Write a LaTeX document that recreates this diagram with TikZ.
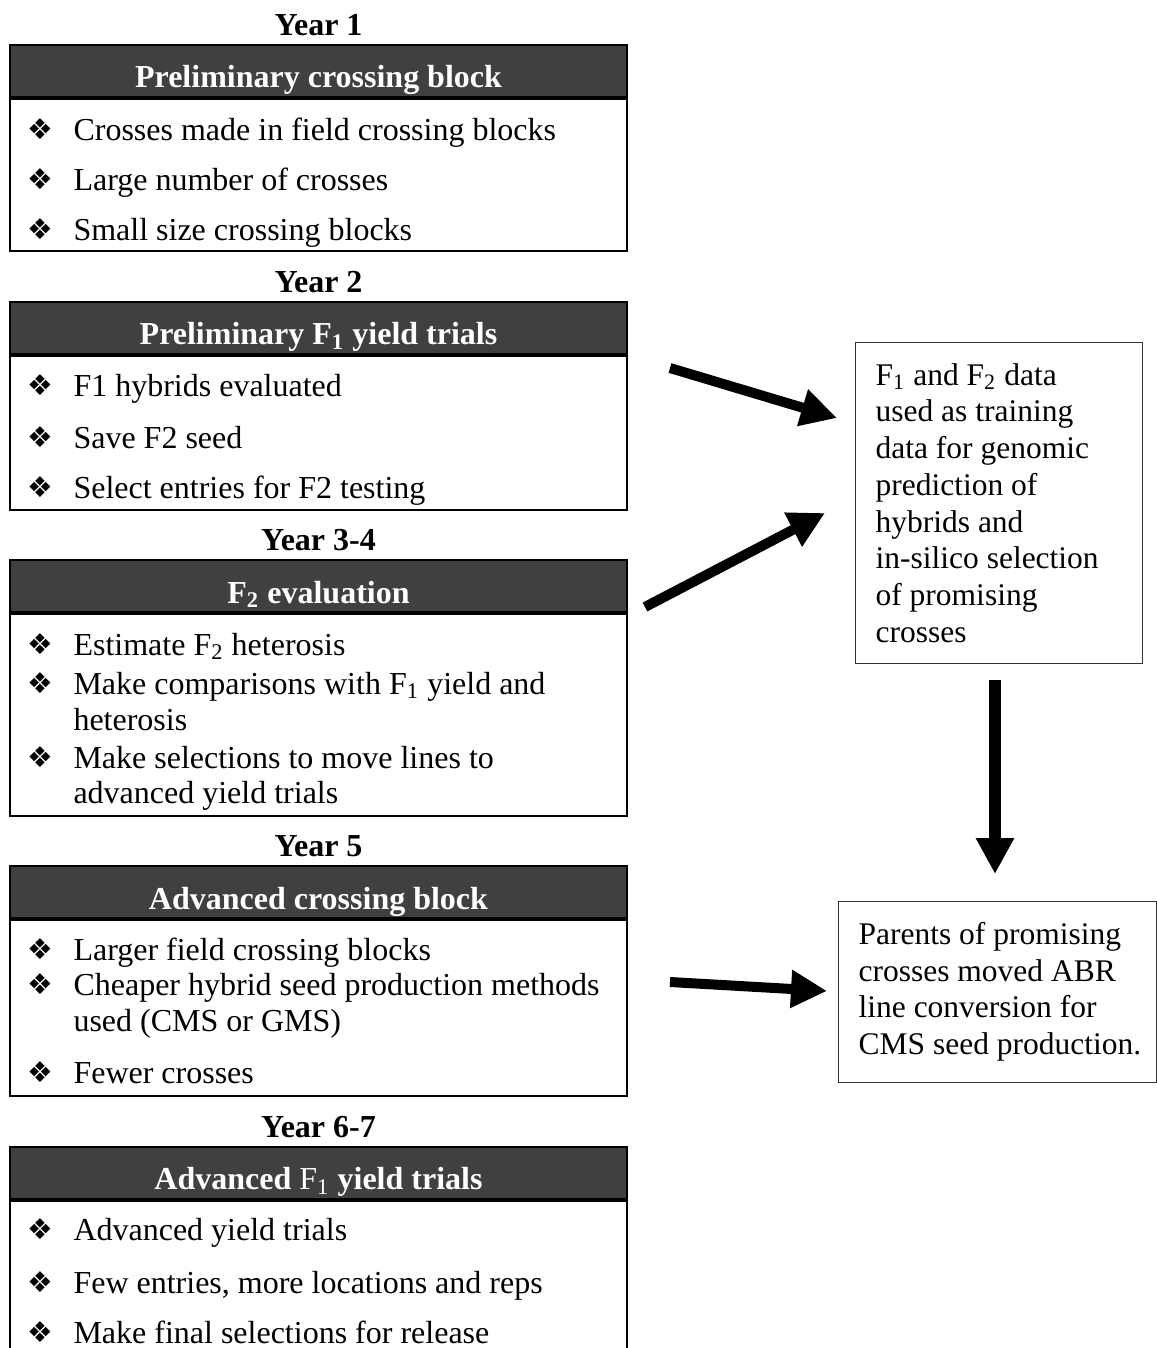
\documentclass[tikz,border=0pt]{standalone}
\usepackage{fontspec}
\setmainfont{Liberation Serif}
\newfontfamily\dingfont{DejaVu Sans}
\usetikzlibrary{arrows.meta, positioning, calc}
\definecolor{hdrgray}{HTML}{404040}

\begin{document}
\fontsize{12.8}{14.68}\selectfont
\begin{tikzpicture}[x=0.4pt, y=-0.4pt,
  yr/.style={font=\bfseries, anchor=base, inner sep=0pt},
  hdr/.style={draw=black, line width=0.8pt, fill=hdrgray, text=white, font=\bfseries,
    anchor=north, minimum width=246.8pt, inner sep=0pt, text height=17.2pt, text depth=3.6pt},
  bdy/.style={draw=black, line width=0.8pt, anchor=north, minimum width=246.8pt, inner sep=0pt},
  itm/.style={anchor=base west, inner sep=0pt},
  bul/.style={font=\dingfont\fontsize{11.5}{12}\selectfont, inner sep=0pt},
  note/.style={draw=black!80, line width=0.5pt, anchor=north west, align=flush left,
    inner xsep=8pt, inner ysep=8.3pt, font=\fontsize{12.6}{14.68}\selectfont},
  bigarr/.style={line width=4pt, -{Triangle[length=14.4pt, width=14.4pt]}}]
\clip (0,0) rectangle (1157,1348);

% Year 1
\node[yr] (y1) at (318.5,35.5) {Year 1};
\node[hdr] (h1) at (318.5,43.5) {Preliminary crossing block};
\node[bdy, minimum height=61pt] (b1) at (h1.south) {};
\node[bul] (u11) at (40,129) {❖};
\node[itm] (t11) at (73,140) {Crosses made in field crossing blocks};
\node[bul] (u12) at (40,179) {❖};
\node[itm] (t12) at (73,190) {Large number of crosses};
\node[bul] (u13) at (40,229) {❖};
\node[itm] (t13) at (73,240) {Small size crossing blocks};

% Year 2
\node[yr] (y2) at (318.5,292) {Year 2};
\node[hdr] (h2) at (318.5,300.5) {Preliminary F\textsubscript{1} yield trials};
\node[bdy, minimum height=61.7pt] (b2) at (h2.south) {};
\node[bul] (u21) at (40,385.5) {❖};
\node[itm] (t21) at (73,396.5) {F1 hybrids evaluated};
\node[bul] (u22) at (40,437) {❖};
\node[itm] (t22) at (73,448) {Save F2 seed};
\node[bul] (u23) at (40,487) {❖};
\node[itm] (t23) at (73,498) {Select entries for F2 testing};

% Year 3-4
\node[yr] (y3) at (318.5,550.5) {Year 3-4};
\node[hdr] (h3) at (318.5,559) {F\textsubscript{2} evaluation};
\node[bdy, minimum height=80.8pt] (b3) at (h3.south) {};
\node[bul] (u31) at (40,644) {❖};
\node[itm] (t31) at (73,655) {Estimate F\textsubscript{2} heterosis};
\node[bul] (u32) at (40,683) {❖};
\node[itm] (t32) at (73,694) {Make comparisons with F\textsubscript{1} yield and};
\node[itm] (t33) at (73,730) {heterosis};
\node[bul] (u34) at (40,757) {❖};
\node[itm] (t34) at (73,768) {Make selections to move lines to};
\node[itm] (t35) at (73,803) {advanced yield trials};

% Year 5
\node[yr] (y4) at (318.5,856.5) {Year 5};
\node[hdr] (h4) at (318.5,865) {Advanced crossing block};
\node[bdy, minimum height=70.4pt] (b4) at (h4.south) {};
\node[bul] (u41) at (40,949) {❖};
\node[itm] (t41) at (73,960) {Larger field crossing blocks};
\node[bul] (u42) at (40,984) {❖};
\node[itm] (t42) at (73,995) {Cheaper hybrid seed production methods};
\node[itm] (t43) at (73,1031.5) {used (CMS or GMS)};
\node[bul] (u44) at (40,1072) {❖};
\node[itm] (t44) at (73,1083) {Fewer crosses};

% Year 6-7
\node[yr] (y5) at (318.5,1137) {Year 6-7};
\node[hdr] (h5) at (318.5,1145.5) {Advanced {\mdseries F\textsubscript{1}} yield trials};
\node[bdy, minimum height=66pt] (b5) at (h5.south) {};
\node[bul] (u51) at (40,1229) {❖};
\node[itm] (t51) at (73,1240) {Advanced yield trials};
\node[bul] (u52) at (40,1282) {❖};
\node[itm] (t52) at (73,1293) {Few entries, more locations and reps};
\node[bul] (u53) at (40,1332) {❖};
\node[itm] (t53) at (73,1343) {Make final selections for release};

% right side
\node[note, text width=98.8pt] (n1) at (855,342) {F\textsubscript{1} and F\textsubscript{2} data\\
  used as training\\ data for genomic\\ prediction of\\ hybrids and\\
  in-silico selection\\ of promising\\ crosses};
\node[note, text width=111.2pt] (n2) at (838,901) {Parents of promising\\
  crosses moved ABR\\ line conversion for\\
  \makebox[\linewidth][l]{CMS seed production.}};

\coordinate (p1) at (670,368);  \coordinate (q1) at (837,418);
\coordinate (p2) at (645,607);  \coordinate (q2) at (825,513);
\coordinate (p3) at (995,680);  \coordinate (q3) at (995,874);
\coordinate (p4) at (670,982);  \coordinate (q4) at (827,991);
\draw[bigarr] (p1) -- (q1);
\draw[bigarr] (p2) -- (q2);
\draw[bigarr, line width=4.5pt] (p3) -- (q3);
\draw[bigarr] (p4) -- (q4);
\end{tikzpicture}
\end{document}
